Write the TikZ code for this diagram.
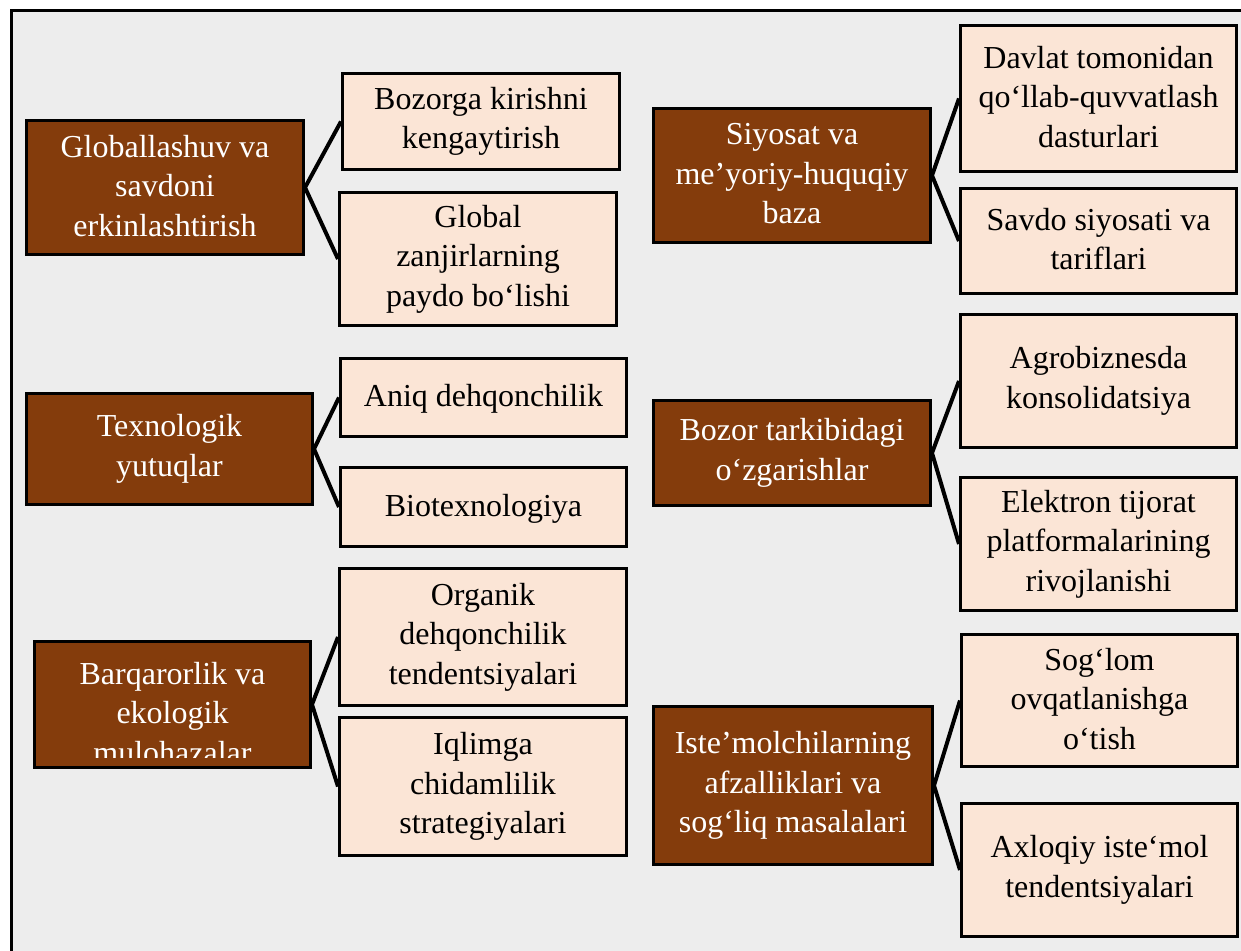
\documentclass[tikz,border=0pt]{standalone}
\usepackage{fontspec}
\setmainfont{Liberation Serif}
\definecolor{frameback}{HTML}{EDEDED}
\definecolor{topicbrown}{HTML}{843C0C}
\definecolor{itempeach}{HTML}{FBE5D6}
% strut giving every line box the same ascent and descent
\newcommand\boxstrut{\rule[-4pt]{0pt}{29.5pt}}
\tikzset{
  boxtext/.style={align=center, inner sep=0pt,
    font=\fontsize{32}{39.5}\selectfont,
    execute at begin node=\boxstrut, execute at end node=\boxstrut},
  boxbase/.style={boxtext, draw=black, line width=3pt},
  topic/.style={boxbase, fill=topicbrown, text=white},
  item/.style={boxbase, fill=itempeach, text=black},
  link/.style={line width=4pt, draw=black},
}
\begin{document}
\begin{tikzpicture}[x=1pt,y=-1pt]
\useasboundingbox (0,0) rectangle (1241,950);
\fill[white] (0,0) rectangle (1241,950);
\draw[line width=3pt, fill=frameback] (11,11) rectangle (1275,985);

% ---- left column: topics ----
\node[topic, minimum width=277pt, minimum height=134pt] (g1) at (165,187.5)
  {Globallashuv va\\savdoni\\erkinlashtirish};
\node[topic, minimum width=286pt, minimum height=111pt] (g2) at (169.5,449)
  {Texnologik\\yutuqlar};
\node[topic, minimum width=276pt, minimum height=126pt] (g3) at (172.5,704.5) {};
\begin{scope}
  % the last line runs past the text area and is cut off
  \clip (35,642) rectangle (310,757);
  \node[boxtext, text=white] (g3text) at (172.5,714.5)
    {Barqarorlik va\\ekologik\\mulohazalar};
\end{scope}

% ---- left column: items ----
\node[item, minimum width=277pt, minimum height=96pt] (c11) at (481,121.5)
  {Bozorga kirishni\\kengaytirish};
\node[item, minimum width=277pt, minimum height=133pt] (c12) at (478,259)
  {Global\\zanjirlarning\\paydo bo‘lishi};
\node[item, minimum width=286pt, minimum height=78pt] (c21) at (483.5,397.5)
  {Aniq dehqonchilik};
\node[item, minimum width=286pt, minimum height=79pt] (c22) at (483.5,507)
  {Biotexnologiya};
\node[item, minimum width=287pt, minimum height=137pt] (c31) at (483,637)
  {Organik\\dehqonchilik\\tendentsiyalari};
\node[item, minimum width=287pt, minimum height=138pt] (c32) at (483,786.5)
  {Iqlimga\\chidamlilik\\strategiyalari};

% ---- right column: topics ----
\node[topic, minimum width=277pt, minimum height=134pt] (r1) at (792,175.5)
  {Siyosat va\\me’yoriy-huquqiy\\baza};
\node[topic, minimum width=277pt, minimum height=105pt] (r2) at (792,453)
  {Bozor tarkibidagi\\o‘zgarishlar};
\node[topic, minimum width=279pt, minimum height=158pt] (r3) at (793,785.5)
  {Iste’molchilarning\\afzalliklari va\\sog‘liq masalalari};

% ---- right column: items ----
\node[item, minimum width=276pt, minimum height=146pt] (d11) at (1098.5,98.5)
  {Davlat tomonidan\\qo‘llab-quvvatlash\\dasturlari};
\node[item, minimum width=276pt, minimum height=105pt] (d12) at (1098.5,241)
  {Savdo siyosati va\\tariflari};
\node[item, minimum width=276pt, minimum height=133pt] (d21) at (1098.5,381)
  {Agrobiznesda\\konsolidatsiya};
\node[item, minimum width=276pt, minimum height=133pt] (d22) at (1098.5,544)
  {Elektron tijorat\\platformalarining\\rivojlanishi};
\node[item, minimum width=276pt, minimum height=132pt] (d31) at (1099.5,700.5)
  {Sog‘lom\\ovqatlanishga\\o‘tish};
\node[item, minimum width=276pt, minimum height=133pt] (d32) at (1099.5,870)
  {Axloqiy iste‘mol\\tendentsiyalari};

% ---- connectors ----
\draw[link] (c11.west) -- (g1.east) -- (c12.west);
\draw[link] (c21.west) -- (g2.east) -- (c22.west);
\draw[link] (c31.west) -- (g3.east) -- (c32.west);
\draw[link] (d11.west) -- (r1.east) -- (d12.west);
\draw[link] (d21.west) -- (r2.east) -- (d22.west);
\draw[link] (d31.west) -- (r3.east) -- (d32.west);
\end{tikzpicture}
\end{document}
